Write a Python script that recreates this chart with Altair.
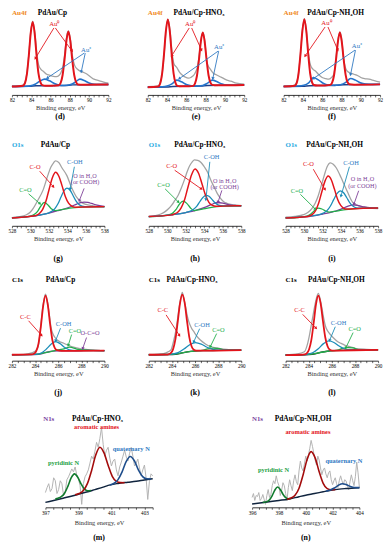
import math
import altair as alt
import pandas as pd

SERIF = "Liberation Serif"

# ---------------- colours ----------------
C_AU = "#F08A24"; C_O1S = "#27A9E1"; C_N1S = "#7B3FA0"
RED = "#E3141B"; DRED = "#A30B0B"; BLUE = "#2574CC"; NAVY = "#1F3F86"
TEAL = "#1B8DB8"; GREEN = "#21AE4A"; DGREEN = "#0F7A2C"; PURPLE = "#7E3F98"
GRAY = "#A3A3A3"; NGRAY = "#B3B3B3"; BLACK = "#1A1A1A"; LBLUE = "#2E78C2"

# ================= Au4f (d) PdAu/Cp =================
D_BG = [(82, 8.5), (83.8, 8.7), (84.5, 9.2), (86, 9.4), (87.5, 9.6), (88.3, 10.2), (90, 10.4), (92, 10.5)]
D_AU0_A = [(82, 8.5), (83.15, 9.4), (83.35, 12), (83.55, 21), (83.75, 40), (83.95, 63), (84.15, 74), (84.35, 63),
           (84.55, 40.5), (84.75, 21.8), (84.95, 13), (85.15, 10), (85.5, 9.3), (86.3, 9.4)]
D_AU0_B = [(86.3, 9.4), (86.85, 9.8), (87.05, 12.2), (87.25, 20), (87.45, 35.5), (87.65, 55), (87.85, 64.5),
           (88.05, 55), (88.25, 36), (88.45, 20.5), (88.65, 13), (88.85, 10.6), (89.3, 10.3), (92, 10.5)]
D_AUP_A = [(82, 8.5), (83.4, 8.8), (83.9, 9.2), (84.4, 10.8), (84.9, 14), (85.4, 16), (85.9, 14.3), (86.4, 11.5),
           (86.9, 9.9), (87.4, 9.6)]
D_AUP_B = [(87.4, 9.6), (87.9, 10), (88.3, 11.4), (88.6, 13.2), (89.05, 16), (89.5, 14.6), (90, 12), (90.5, 10.8),
           (91, 10.5), (92, 10.5)]
D_EXP = [(82, 9), (83, 9.5), (83.35, 12.5), (83.55, 22), (83.75, 41), (83.95, 64), (84.15, 75), (84.35, 65),
         (84.55, 45), (84.75, 31), (85.0, 26), (85.25, 24), (85.6, 21), (85.9, 20), (86.3, 18.8), (86.6, 18.6),
         (86.9, 20), (87.1, 23), (87.3, 30), (87.5, 44), (87.65, 58), (87.85, 65), (88.05, 57), (88.25, 41),
         (88.5, 30), (88.8, 26), (89.1, 24), (89.5, 22.5), (89.8, 21), (90.2, 18), (90.5, 16), (91, 14.5),
         (91.5, 13), (92, 12)]

# ================= Au4f (e) PdAu/Cp-HNO3 =================
E_BG = [(82, 7.8), (84, 8), (84.6, 8.5), (86, 8.8), (87.5, 9), (88.2, 9.6), (90, 9.8), (92, 10)]
E_AU0_A = [(82, 7.8), (83.08, 8.5), (83.28, 11.5), (83.48, 21), (83.68, 41), (83.88, 65), (84.08, 76.7), (84.28, 65),
           (84.48, 41.5), (84.68, 21.5), (84.88, 12), (85.08, 9.2), (85.5, 8.7), (86.3, 8.8)]
E_AU0_B = [(86.3, 8.8), (86.7, 9.2), (86.9, 11.8), (87.1, 19.5), (87.3, 35), (87.5, 54), (87.7, 63.3), (87.9, 54),
           (88.1, 35.5), (88.3, 20), (88.5, 12.5), (88.7, 10.2), (89.2, 9.7), (92, 10)]
E_AUP_A = [(82, 7.8), (83.5, 8.2), (84, 9), (84.5, 11.2), (85, 15), (85.5, 13.3), (86, 10.5), (86.5, 9.2), (87.2, 9)]
E_AUP_B = [(87.2, 9), (87.7, 9.6), (88.2, 12), (88.7, 15), (89.2, 13.3), (89.7, 11), (90.2, 10), (91, 9.8), (92, 10)]
E_EXP = [(82, 8.5), (83, 9), (83.3, 12), (83.5, 22), (83.7, 42), (83.9, 66), (84.08, 77), (84.3, 66), (84.5, 45),
         (84.7, 32), (85.0, 28), (85.3, 23), (85.6, 20), (85.9, 18), (86.2, 17), (86.5, 18), (86.9, 22), (87.1, 27),
         (87.3, 38), (87.5, 55), (87.7, 63.5), (87.9, 56), (88.05, 40), (88.2, 31), (88.5, 26), (88.8, 22),
         (89.1, 20.5), (89.5, 18.5), (89.8, 17), (90.2, 15), (90.6, 14), (91.2, 12), (92, 11)]

# ================= Au4f (f) PdAu/Cp-NH4OH =================
F_BG = [(82, 8.6), (84, 8.8), (84.7, 9.3), (86, 9.5), (87.5, 9.7), (88.2, 10.3), (90, 10.5), (92, 10.7)]
F_AU0_A = [(82, 8.6), (83.15, 9.3), (83.35, 12), (83.55, 21.7), (83.75, 41.5), (83.95, 65.3), (84.15, 77),
           (84.35, 65.3), (84.55, 41.8), (84.75, 22), (84.95, 12.8), (85.15, 10), (85.5, 9.5), (86.3, 9.6)]
F_AU0_B = [(86.3, 9.6), (86.83, 10.2), (87.03, 12.5), (87.23, 20), (87.43, 35.5), (87.63, 54), (87.83, 63.3),
           (88.03, 54), (88.23, 35.8), (88.43, 20.4), (88.63, 12.8), (88.83, 10.8), (89.3, 10.4), (92, 10.7)]
F_AUP_A = [(82, 8.6), (83.5, 9), (84.1, 9.8), (84.6, 12.3), (85.1, 17.7), (85.6, 15.2), (86.1, 11.8), (86.6, 10),
           (87.3, 9.7)]
F_AUP_B = [(87.3, 9.7), (87.9, 10.3), (88.45, 12.7), (88.95, 16.7), (89.45, 15), (89.95, 12.3), (90.5, 11),
           (91.2, 10.7), (92, 10.7)]
F_EXP = [(82, 9), (83, 9.5), (83.35, 12.5), (83.55, 22.5), (83.75, 42), (83.95, 66), (84.15, 77.5), (84.35, 66),
         (84.55, 44), (84.8, 30), (85.05, 26), (85.3, 24.3), (85.6, 21), (86.0, 17.7), (86.4, 16.5), (86.7, 16),
         (87.0, 18), (87.2, 21), (87.4, 34), (87.6, 53), (87.83, 64), (88.03, 56), (88.2, 38), (88.4, 28),
         (88.6, 24), (89, 22), (89.3, 21), (89.7, 19.5), (90, 17.7), (90.4, 16.5), (90.85, 16), (91.4, 14.5),
         (92, 13)]

# ================= O1s (g) PdAu/Cp =================
G_EXP = [(528, 8.4), (528.5, 9), (529, 9.5), (529.5, 11), (530, 14), (530.3, 17.7), (530.8, 26), (531.35, 36),
         (531.87, 51), (532.2, 59.4), (532.5, 64), (532.7, 66), (533.06, 64.4), (533.4, 59), (533.94, 51),
         (534.4, 40), (534.97, 29.4), (535.5, 24), (536, 21.7), (536.7, 20.5), (537.4, 19.4), (538, 19)]
G_CO2 = [(528, 8), (529.5, 9), (530.3, 11), (530.75, 14.4), (531.1, 19.8), (531.5, 23.8), (531.9, 21.1),
         (532.25, 17.4), (532.7, 15.4), (533.5, 16.6), (534.5, 18.2), (536, 19.2), (538, 19.5)]
G_CO = [(528, 8), (530.3, 10), (530.62, 10.5), (530.97, 12.5), (531.32, 16.7), (531.67, 24.9), (532.02, 37.2),
        (532.37, 48.8), (532.72, 54.4), (533.07, 50.4), (533.42, 40.6), (533.77, 29.8), (534.12, 23),
        (534.47, 19.9), (534.82, 18.9), (536, 19.2), (538, 19.5)]
G_COH = [(528, 8), (531.5, 11.8), (531.99, 13.2), (532.31, 14.7), (532.64, 17.5), (532.96, 22.1), (533.29, 29),
         (533.61, 35.4), (533.94, 38.4), (534.27, 36.4), (534.59, 31.1), (534.92, 25.3), (535.24, 21.6),
         (535.57, 19.9), (535.89, 19.4), (537, 19.4), (538, 19.5)]
G_H2O = [(528, 8), (529, 8.6), (530, 9.5), (531, 10.8), (532, 13), (533, 15.5), (533.8, 17.6), (534.4, 19.6),
         (535, 22.1), (535.4, 23.5), (535.8, 24.1), (536.2, 23.7), (536.6, 22.7), (537.2, 20.9), (537.8, 19.9),
         (538, 19.7)]

# ================= O1s (h) PdAu/Cp-HNO3 =================
H_EXP = [(528, 9.5), (528.7, 10.4), (529.3, 12), (529.77, 14.4), (530.1, 17), (530.48, 21), (530.8, 25.5),
         (531.18, 31), (531.5, 38), (531.89, 47.7), (532.15, 55), (532.42, 61), (532.7, 65), (532.94, 67),
         (533.3, 66.5), (533.65, 64.4), (534.0, 60), (534.36, 54.4), (534.7, 46.5), (535.07, 39.4), (535.4, 33),
         (535.78, 27.7), (536.1, 24.5), (536.5, 22.7), (537, 21.5), (537.5, 21), (538, 20.5)]
H_CO2 = [(528, 9.4), (529.5, 10.2), (530.11, 11.2), (530.51, 12.4), (530.91, 16.1), (531.31, 21.9), (531.71, 25),
         (532.11, 22.8), (532.51, 18.1), (532.91, 15.5), (533.5, 16.5), (534.5, 18.3), (536, 20), (538, 20.4)]
H_CO = [(528, 9.4), (530.5, 11.1), (530.75, 12), (531.13, 13.8), (531.5, 18.3), (531.88, 26.8), (532.25, 39.7),
        (532.63, 51.9), (533, 57.7), (533.38, 53.4), (533.75, 42.7), (534.13, 31.2), (534.5, 23.9),
        (534.88, 20.7), (535.25, 19.8), (536, 20), (538, 20.4)]
H_COH = [(528, 9.4), (532, 13.5), (532.23, 14.1), (532.55, 15.2), (532.88, 17.1), (533.2, 20.1), (533.53, 24.7),
         (533.85, 28.8), (534.18, 31), (534.51, 30), (534.83, 26.9), (535.16, 23.4), (535.48, 21.3),
         (535.81, 20.4), (536.5, 20.2), (538, 20.4)]
H_H2O = [(528, 9.4), (529, 9.8), (530, 10.5), (531, 11.8), (532, 13.5), (533, 15.5), (533.6, 17.3), (534.2, 19.3),
         (534.8, 21.8), (535.4, 23.7), (536, 23.1), (536.6, 21.6), (537.2, 20.7), (538, 20.4)]

# ================= O1s (i) PdAu/Cp-NH4OH =================
I_EXP = [(528, 8.7), (529, 9.5), (529.94, 11.3), (530.4, 13.5), (530.82, 17.3), (531.2, 23), (531.53, 30.6),
         (531.8, 39), (532.06, 47.3), (532.3, 55), (532.49, 60), (532.84, 64), (533.15, 62.5), (533.47, 59),
         (534, 49), (534.35, 41.5), (534.71, 34), (535, 28), (535.24, 24), (535.6, 21.5), (535.95, 20),
         (536.5, 19), (537, 18.3), (538, 17.5)]
I_CO2 = [(528, 8), (529.5, 8.7), (530.33, 9.9), (530.73, 12.1), (531.13, 15.5), (531.53, 18), (531.93, 17.1),
         (532.33, 15), (532.73, 14), (533.5, 15), (534.5, 16.5), (536, 17.7), (538, 18)]
I_CO = [(528, 8), (530.2, 9.2), (530.56, 10), (530.9, 11.6), (531.24, 15.5), (531.58, 23.2), (531.92, 34.6),
        (532.26, 45.4), (532.6, 50.6), (532.94, 46.8), (533.28, 37.3), (533.62, 27.1), (533.96, 20.7),
        (534.3, 17.8), (534.64, 17), (536, 17.7), (538, 18)]
I_COH = [(528, 8), (531.5, 11), (531.8, 11.8), (532.15, 13.2), (532.5, 15.7), (532.85, 20.1), (533.2, 26.6),
         (533.55, 32.6), (533.9, 35.6), (534.25, 33.8), (534.6, 28.8), (534.95, 23.4), (535.3, 19.9),
         (535.65, 18.3), (536, 17.9), (538, 18)]
I_H2O = [(528, 8), (529, 8.4), (530, 9), (531, 10.2), (532, 12), (533, 14), (533.5, 15.3), (534.1, 17.4),
         (534.7, 19.7), (535.3, 21.3), (535.9, 20.5), (536.5, 19.2), (537.1, 18.4), (538, 18)]

# ================= C1s (j) PdAu/Cp =================
J_EXP = [(282, 6.2), (283, 6.5), (283.7, 8), (284.0, 9.5), (284.27, 14.4), (284.4, 25), (284.54, 41),
         (284.66, 54), (284.76, 61), (284.9, 67.7), (285.0, 64), (285.1, 57.7), (285.25, 45), (285.37, 34.4),
         (285.55, 27), (285.78, 22.7), (286.1, 19.5), (286.47, 17.7), (286.8, 16), (287.16, 14.4), (287.6, 13),
         (288.13, 11.7), (289, 10.8), (290, 10)]
J_OCO = [(282, 6), (283.5, 6.1), (284.3, 6.5), (284.7, 7.5), (285.1, 8.8), (285.5, 9.7), (286, 10), (287, 10.1),
         (288, 10.3), (288.5, 10.6), (289, 10.4), (290, 10.2)]
J_CC = [(282, 6), (283.7, 6.3), (283.9, 7), (284.1, 9.6), (284.3, 17.5), (284.5, 34.6), (284.7, 55.5), (284.9, 66),
        (285.1, 56.8), (285.3, 37.1), (285.5, 20.7), (285.7, 13), (285.9, 10.6), (286.3, 10), (290, 10.2)]
J_COH = [(282, 6), (284, 6.3), (284.58, 8.1), (284.98, 11.8), (285.38, 16.7), (285.78, 19.4), (286.18, 17.2),
         (286.58, 13.3), (286.98, 11), (287.5, 10.2), (290, 10.2)]
J_CO = [(282, 6), (284, 6.3), (285, 8.5), (285.8, 10.4), (286.4, 11.6), (287, 13.7), (287.6, 11.8), (288.2, 10.9),
        (289, 10.4), (290, 10.2)]

# ================= C1s (k) PdAu/Cp-HNO3 =================
K_EXP = [(282, 6.3), (283, 6.8), (283.5, 8), (283.92, 11), (284.15, 20), (284.35, 31), (284.5, 43), (284.63, 54.4),
         (284.78, 64), (284.9, 69.4), (285.05, 62), (285.19, 54.4), (285.32, 46), (285.47, 39.4), (285.7, 33),
         (285.9, 29.4), (286.15, 25), (286.46, 21), (286.9, 17), (287.3, 14.4), (287.9, 13), (288.46, 11.7),
         (289.2, 11), (290, 10.7)]
K_BG = [(282, 6), (283.5, 6.2), (284.3, 6.5), (284.7, 7.3), (285.1, 8.5), (285.6, 9.5), (286.2, 10), (287, 10.2),
        (288, 10.4), (290, 10.7)]
K_CC = [(282, 6), (283.5, 6.2), (283.7, 6.5), (283.9, 7.6), (284.1, 11.5), (284.3, 21.3), (284.5, 38.8), (284.7, 58),
        (284.9, 67), (285.1, 59.2), (285.3, 41), (285.5, 24.2), (285.7, 14.6), (285.9, 11), (286.1, 10.2),
        (286.5, 10.1), (290, 10.7)]
K_COH = [(282, 6), (283.5, 6.2), (284.04, 6.8), (284.54, 8.1), (285.04, 11.8), (285.54, 16.2), (286.04, 18.4),
         (286.54, 16.8), (287.04, 13.6), (287.54, 11.4), (288.04, 10.6), (290, 10.7)]
K_CO = [(282, 6), (284, 6.4), (285, 8.2), (286, 10), (286.6, 10.4), (287.1, 12.1), (287.6, 12.7), (288.1, 12.3),
        (288.6, 10.8), (290, 10.7)]

# ================= C1s (l) PdAu/Cp-NH4OH =================
L_EXP = [(282, 6), (283, 6.8), (283.63, 9), (283.85, 15), (284.05, 25), (284.25, 38), (284.41, 48.3), (284.6, 60),
         (284.83, 68.3), (285.0, 62), (285.17, 51.6), (285.3, 43), (285.45, 35), (285.65, 30), (285.87, 26.6),
         (286.15, 23), (286.43, 20), (286.8, 17.5), (287.14, 15.6), (287.6, 14), (288.12, 12.3), (289, 11.5),
         (290, 11)]
L_BG = [(282, 5.7), (283.5, 6), (284.3, 6.5), (284.7, 7.4), (285.1, 8.6), (285.6, 9.6), (286.2, 10.2), (287, 10.5),
        (288, 10.8), (290, 11)]
L_CC = [(282, 5.7), (283.4, 6), (283.63, 6.4), (283.83, 7.5), (284.03, 11.4), (284.23, 21.1), (284.43, 38.3),
        (284.63, 57.2), (284.83, 66), (285.03, 58.2), (285.23, 40.3), (285.43, 23.8), (285.63, 14.6),
        (285.83, 11), (286.03, 10.2), (286.5, 10.3), (290, 11)]
L_COH = [(282, 5.7), (283.5, 6), (283.93, 6.7), (284.38, 8.3), (284.83, 12.1), (285.28, 17.3), (285.73, 20),
         (286.18, 18.5), (286.63, 14.9), (287.08, 12.1), (287.53, 11.1), (288.5, 10.9), (290, 11)]
L_CO = [(282, 5.7), (284, 6.3), (285, 8.3), (286, 10.1), (286.5, 10.6), (286.95, 12.6), (287.4, 13.3),
        (287.85, 12.9), (288.3, 11.2), (290, 11)]

# ================= N1s (m) PdAu/Cp-HNO3 =================
M_E = [397.0 + 0.1 * i for i in range(66)]
M_EXP = [15, 20, 24, 16, 19, 30, 27, 14, 18, 27, 24, 12, 16, 28, 31, 35, 39, 36, 41, 33, 29, 22, 3, 24, 31, 34,
         38, 45, 52, 49, 57, 66, 61, 70, 81, 64, 52, 58, 61, 50, 42, 47, 49, 38, 32, 41, 46, 52, 58, 51, 47, 55,
         61, 52, 42, 45, 49, 40, 32, 38, 43, 30, 8, 26, 34, 32]
M_BG = [(397, 5), (397.5, 7), (398, 9), (398.5, 11), (399, 13.3), (399.5, 15.5), (400, 18), (400.5, 20.5),
        (400.8, 22.3), (401.4, 24.3), (402, 25.5), (402.5, 26.5), (403, 27.8), (403.5, 29)]
M_PYR = [(397.6, 8.4), (397.76, 9.2), (397.96, 10.8), (398.16, 14.3), (398.36, 21.3), (398.56, 29.8), (398.76, 34),
         (398.96, 30.6), (399.16, 23.8), (399.36, 18.7), (399.56, 16.9), (399.76, 17.1)]
M_ARO = [(398.8, 12.8), (399.05, 14), (399.3, 17.1), (399.55, 24.3), (399.8, 37.5), (400.05, 53.1), (400.3, 61),
         (400.55, 55.3), (400.8, 42.7), (401.05, 31.5), (401.3, 26.4), (401.55, 25.1), (401.8, 25)]
M_QUA = [(400.9, 22.6), (401.14, 24.2), (401.39, 27.9), (401.64, 35.7), (401.89, 46.4), (402.14, 51.7),
         (402.39, 47.3), (402.64, 37.7), (402.89, 31.2), (403.14, 29), (403.4, 28.8)]

# ================= N1s (n) PdAu/Cp-NH4OH =================
N_E = [396.0 + 0.1 * i for i in range(81)]
N_EXP = [10, 14, 7, 12, 11, 15, 7, 9, 13, 8, 3, 12, 18, 10, 13, 22, 27, 24, 32, 26, 22, 12, 17, 25, 22, 14, 7, 20,
         28, 22, 17, 27, 33, 26, 23, 37, 47, 40, 37, 44, 52, 47, 53, 60, 68, 62, 55, 48, 43, 52, 48, 40, 33, 38,
         40, 34, 30, 35, 37, 28, 23, 27, 30, 24, 20, 27, 32, 27, 23, 28, 27, 22, 18, 26, 33, 27, 22, 31, 46, 35, 20]
N_BG = [(396, 3.3), (397, 5.2), (398, 7), (398.7, 8.3), (399.5, 10.8), (400, 12.3), (400.65, 14), (401.3, 15.8),
        (401.87, 17.3), (402.5, 18.5), (403, 19.1), (404, 20)]
N_PYR = [(396.8, 5), (397.1, 5.8), (397.3, 7.7), (397.5, 11.9), (397.7, 17.6), (397.9, 20.6), (398.1, 18.2),
         (398.3, 13.3), (398.5, 9.9), (398.7, 8.7), (398.9, 8.9)]
N_ARO = [(398.6, 8.2), (398.9, 9.5), (399.2, 12.3), (399.5, 19.4), (399.8, 32.9), (400.1, 48.7), (400.4, 56.6),
         (400.7, 50.2), (401.0, 36.2), (401.3, 24.4), (401.6, 19), (401.9, 17.9), (402.2, 18)]
N_QUA = [(401.5, 16.4), (401.83, 17.6), (402.13, 19.6), (402.43, 22.3), (402.73, 24), (403.03, 23), (403.33, 21.1),
         (403.63, 20.1), (404, 20)]


def half_ticks(a, b):
    return [a + 0.5 * i for i in range(int(round((b - a) * 2)) + 1)]


EVEN = "datum.value % 2 == 0 ? format(datum.value, 'd') : ''"
ODD = "datum.value % 2 == 1 ? format(datum.value, 'd') : ''"


def au_panel(name, bg, a0a, a0b, apa, apb, exp, lab0, lab1, arrows, ptitle_x, title):
    return dict(
        letter=name, w=98, h=88, xdom=[82, 92], ticks=half_ticks(82, 92), labexpr=EVEN, loff=2, tpad=2,
        lines=[(exp, GRAY, 1.3, "monotone"), (bg, NAVY, 1.5, "monotone"),
               (apa, BLUE, 1.6, "monotone"), (apb, BLUE, 1.6, "monotone"),
               (a0a, RED, 2.0, "monotone"), (a0b, RED, 2.0, "monotone")],
        texts=[("Au4f", 82.0, 83, C_AU, 7.2, "bold", "left"), (title, ptitle_x, 83, "black", 7.5, "bold", "center"),
               ("Au⁰", lab0[0], lab0[1], RED, 6.8, "normal", "center"),
               ("Au⁺", lab1[0], lab1[1], LBLUE, 6.8, "normal", "center")],
        arrows=arrows)


PANELS_ROW1 = [
    au_panel("(d)", D_BG, D_AU0_A, D_AU0_B, D_AUP_A, D_AUP_B, D_EXP, (86.4, 72), (89.7, 46),
             [(86.35, 68, 84.45, 37.5, RED), (86.5, 68, 88.2, 45, RED),
              (89.5, 42.5, 85.7, 17.4, LBLUE), (89.6, 42.5, 89.2, 24, LBLUE)], 86.2, "PdAu/Cp"),
    au_panel("(e)", E_BG, E_AU0_A, E_AU0_B, E_AUP_A, E_AUP_B, E_EXP, (86.4, 71.7), (89.4, 48.3),
             [(86.3, 68, 84.5, 40, RED), (86.55, 68, 87.55, 46, RED),
              (89.3, 44.5, 85.3, 16.7, LBLUE), (89.35, 44.5, 88.75, 17, LBLUE)], 87.3, "PdAu/Cp-HNO₃"),
    au_panel("(f)", F_BG, F_AU0_A, F_AU0_B, F_AUP_A, F_AUP_B, F_EXP, (86.44, 72.7), (89.6, 49.3),
             [(86.3, 69, 84.26, 40, RED), (86.6, 69, 87.6, 46, RED),
              (89.4, 45.5, 85.1, 16.7, LBLUE), (89.45, 45.5, 88.95, 21, LBLUE)], 87.4, "PdAu/Cp-NH₄OH"),
]


def o_panel(name, exp, co2, co, coh, h2o, lab, arrows, title, title_x):
    return dict(
        letter=name, w=94, h=86, xdom=[528, 538], ticks=half_ticks(528, 538), labexpr=EVEN, loff=13, tpad=2,
        lines=[(exp, GRAY, 1.3, "monotone"), (h2o, PURPLE, 1.3, "monotone"), (co2, GREEN, 1.3, "monotone"),
               (coh, TEAL, 1.3, "monotone"), (co, RED, 1.5, "monotone")],
        texts=[("O1s", 528.0, 82, C_O1S, 7, "bold", "left"), (title, title_x, 82, "black", 7.5, "bold", "center"),
               ("C-O", lab["co"][0], lab["co"][1], RED, 6.5, "normal", "center"),
               ("C-OH", lab["coh"][0], lab["coh"][1], LBLUE, 6.5, "normal", "center"),
               ("C=O", lab["co2"][0], lab["co2"][1], GREEN, 6.5, "normal", "center"),
               ("O in H₂O", lab["h2o"][0], lab["h2o"][1], PURPLE, 6.3, "normal", "center"),
               ("(or COOH)", lab["h2o"][0], lab["h2o"][1] - 6.6, PURPLE, 6.3, "normal", "center")],
        arrows=arrows)


PANELS_ROW2 = [
    o_panel("(g)", G_EXP, G_CO2, G_CO, G_COH, G_H2O,
            dict(co=(530.5, 59.4), coh=(534.8, 64.4), co2=(529.45, 36), h2o=(535.9, 51)),
            [(531.0, 55.5, 532.45, 40, RED), (534.75, 60, 534.3, 37.7, TEAL),
             (535.8, 38, 535.3, 26, PURPLE), (529.8, 32.5, 531.0, 22.7, GREEN)], "PdAu/Cp", 532.7),
    o_panel("(h)", H_EXP, H_CO2, H_CO, H_COH, H_H2O,
            dict(co=(530.48, 61), coh=(534.8, 69.4), co2=(529.6, 41), h2o=(536.2, 46)),
            [(530.8, 56.5, 533.65, 37.7, RED), (534.6, 65, 534.18, 27, TEAL),
             (535.9, 36, 535.5, 24.4, PURPLE), (529.77, 37.5, 531.18, 24.4, GREEN)], "PdAu/Cp-HNO₃", 533.5),
    o_panel("(i)", I_EXP, I_CO2, I_CO, I_COH, I_H2O,
            dict(co=(530.47, 62.3), coh=(535.07, 64), co2=(529.23, 35.6), h2o=(536.3, 47.3)),
            [(531.0, 57.5, 532.24, 37.3, RED), (534.9, 60, 534.0, 30.6, TEAL),
             (535.9, 35.6, 535.4, 22.3, PURPLE), (529.6, 32, 531.18, 17.3, GREEN)], "PdAu/Cp-NH₄OH", 533.3),
]


def c_panel(name, exp, bg, bgcol, cc, coh, co, lab, arrows, title, title_x, extra_texts=()):
    texts = [("C1s", 282.0, 81.5, "black", 7, "bold", "left"), (title, title_x, 81.5, "black", 7.5, "bold", "center"),
             ("C-C", lab["cc"][0], lab["cc"][1], RED, 6.5, "normal", "center"),
             ("C-OH", lab["coh"][0], lab["coh"][1], LBLUE, 6.5, "normal", "center"),
             ("C=O", lab["co"][0], lab["co"][1], GREEN, 6.5, "normal", "center")] + list(extra_texts)
    return dict(
        letter=name, w=94, h=89, xdom=[282, 290], ticks=half_ticks(282, 290), labexpr=EVEN, loff=12, tpad=2,
        lines=[(exp, GRAY, 1.3, "monotone"), (bg, bgcol, 1.4, "monotone"), (co, GREEN, 1.3, "monotone"),
               (coh, TEAL, 1.3, "monotone"), (cc, RED, 1.8, "monotone")],
        texts=texts, arrows=arrows)


PANELS_ROW3 = [
    c_panel("(j)", J_EXP, J_OCO, PURPLE, J_CC, J_COH, J_CO,
            dict(cc=(283.16, 44.4), coh=(286.47, 37.7), co=(287.44, 30)),
            [(283.44, 40.5, 284.54, 26, RED), (286.2, 33, 285.78, 20.4, TEAL),
             (287.16, 26.5, 286.88, 16, GREEN), (288.45, 23.5, 288.13, 12.7, PURPLE)], "PdAu/Cp", 286.2,
            [("O-C=O", 288.75, 27.7, PURPLE, 6.5, "normal", "center")]),
    c_panel("(k)", K_EXP, K_BG, BLACK, K_CC, K_COH, K_CO,
            dict(cc=(283.21, 51), coh=(286.6, 36), co=(288.02, 31)),
            [(283.5, 46.5, 284.63, 26, RED), (286.4, 32.5, 285.9, 19.4, TEAL),
             (287.87, 27.5, 287.33, 14.4, GREEN)], "PdAu/Cp-HNO₃", 285.74),
    c_panel("(l)", L_EXP, L_BG, BLACK, L_CC, L_COH, L_CO,
            dict(cc=(283.2, 51.6), coh=(286.58, 38.3), co=(287.98, 32.3)),
            [(283.48, 47, 284.61, 33.3, RED), (286.3, 34.5, 285.82, 21, TEAL),
             (287.84, 28.5, 287.22, 13.3, GREEN)], "PdAu/Cp-NH₄OH", 286.4),
]


def n_panel(name, xdom, energies, counts, bg, pyr, aro, qua, labexpr, nx, title, title_x, lab):
    return dict(
        letter=name, w=109, h=100, xdom=xdom, ticks=half_ticks(*xdom), labexpr=labexpr, loff=8, tpad=4,
        lines=[(list(zip(energies, counts)), NGRAY, 1.0, "linear"), (bg, "#10243E", 1.5, "monotone"),
               (pyr, DGREEN, 1.6, "monotone"), (aro, DRED, 1.6, "monotone"), (qua, "#1F4E8C", 1.6, "monotone")],
        texts=[("N1s", nx, 90, C_N1S, 7, "bold", "center"), (title, title_x, 90, "black", 7.5, "bold", "center"),
               ("aromatic amines", lab["aro"][0], lab["aro"][1], RED, 6.5, "bold", "center"),
               ("quaternary N", lab["qua"][0], lab["qua"][1], LBLUE, 6.5, "bold", "center"),
               ("pyridinic N", lab["pyr"][0], lab["pyr"][1], "#1CA03F", 6.5, "bold", "center")],
        arrows=[])


PANEL_M = n_panel("(m)", [397, 403.5], M_E, M_EXP, M_BG, M_PYR, M_ARO, M_QUA, ODD, 397.2, "PdAu/Cp-HNO₃", 400.15,
                  dict(aro=(400.1, 81.7), qua=(402.2, 59), pyr=(398.1, 45)))
PANEL_N = n_panel("(n)", [396, 404], N_E, N_EXP, N_BG, N_PYR, N_ARO, N_QUA, EVEN, 396.4, "PdAu/Cp-NH₄OH", 399.8,
                  dict(aro=(400.16, 76.6), qua=(402.85, 46.6), pyr=(397.6, 38.3)))


def make_panel(p):
    W, H = p["w"], p["h"]
    x0, x1 = p["xdom"]
    kx = W / (x1 - x0)
    xs = alt.Scale(domain=[x0, x1], nice=False, zero=False)
    ys = alt.Scale(domain=[0, H], nice=False, zero=False)
    axis = alt.Axis(values=p["ticks"], labelExpr=p["labexpr"], title="Binding energy, eV",
                    labelFont=SERIF, labelFontSize=5.2, labelColor="black", labelPadding=1, labelFlush=False,
                    labelOverlap=False, tickSize=2, tickColor="black", tickWidth=0.6, domainColor="black",
                    domainWidth=0.8, grid=False, titleFont=SERIF, titleFontSize=6.5, titleFontWeight="normal",
                    titleColor="#333333", titlePadding=p["tpad"])

    def X(field):
        return alt.X(field, type="quantitative", scale=xs, axis=axis)

    def Y(field):
        return alt.Y(field, type="quantitative", scale=ys, axis=None)

    layers = []
    for pts, color, width, interp in p["lines"]:
        df = pd.DataFrame(pts, columns=["x", "y"])
        layers.append(alt.Chart(df).mark_line(color=color, strokeWidth=width, interpolate=interp)
                      .encode(x=X("x"), y=Y("y")))
    for (ax1, ay1, ax2, ay2, col) in p["arrows"]:
        ang = math.degrees(math.atan2((ax2 - ax1) * kx, (ay2 - ay1))) % 360
        df = pd.DataFrame({"x": [ax1], "y": [ay1], "x2": [ax2], "y2": [ay2], "ang": [ang]})
        layers.append(alt.Chart(df).mark_rule(color=col, strokeWidth=0.9)
                      .encode(x=X("x"), y=Y("y"), x2=alt.X2("x2"), y2=alt.Y2("y2")))
        dfh = pd.DataFrame({"x": [ax2], "y": [ay2], "ang": [ang]})
        layers.append(alt.Chart(dfh).mark_point(shape="triangle", filled=True, size=12, color=col, opacity=1)
                      .encode(x=X("x"), y=Y("y"), angle=alt.Angle("ang:Q", scale=None)))
    for (t, tx, ty, col, fs, fw, al) in p["texts"]:
        df = pd.DataFrame({"x": [tx], "y": [ty], "t": [t]})
        layers.append(alt.Chart(df).mark_text(font=SERIF, fontSize=fs, fontWeight=fw, color=col, align=al,
                                              baseline="middle")
                      .encode(x=X("x"), y=Y("y"), text="t:N"))
    return alt.layer(*layers).properties(
        width=W, height=H,
        title=alt.TitleParams(p["letter"], orient="bottom", anchor="middle", font=SERIF, fontSize=8,
                              fontWeight="bold", color="black", offset=p["loff"]))


def spacer(w, h):
    return alt.Chart(pd.DataFrame({"v": [0]})).mark_point(opacity=0, size=1).encode(
        x=alt.X("v:Q", axis=None), y=alt.Y("v:Q", axis=None)).properties(width=w, height=h)


def row(charts, spacing):
    return alt.hconcat(*charts, spacing=spacing, bounds="flush").resolve_scale(x="independent", y="independent")


row1 = row([make_panel(p) for p in PANELS_ROW1], 40)
row2 = row([make_panel(p) for p in PANELS_ROW2], 45)
row3 = row([make_panel(p) for p in PANELS_ROW3], 45)
inner4 = row([make_panel(PANEL_M), make_panel(PANEL_N)], 101)
row4 = row([spacer(34, 1), inner4], 0)

chart = alt.vconcat(row1, spacer(1, 19), row2, spacer(1, 10), row3, spacer(1, 12), row4,
                    spacing=0).resolve_scale(x="independent", y="independent").properties(
    padding={"left": 0, "top": -4, "right": 0, "bottom": 0})
chart = chart.configure(font=SERIF).configure_view(strokeWidth=0, stroke="transparent")

chart.save("out.html", embed_options={"renderer": "svg", "actions": False})
